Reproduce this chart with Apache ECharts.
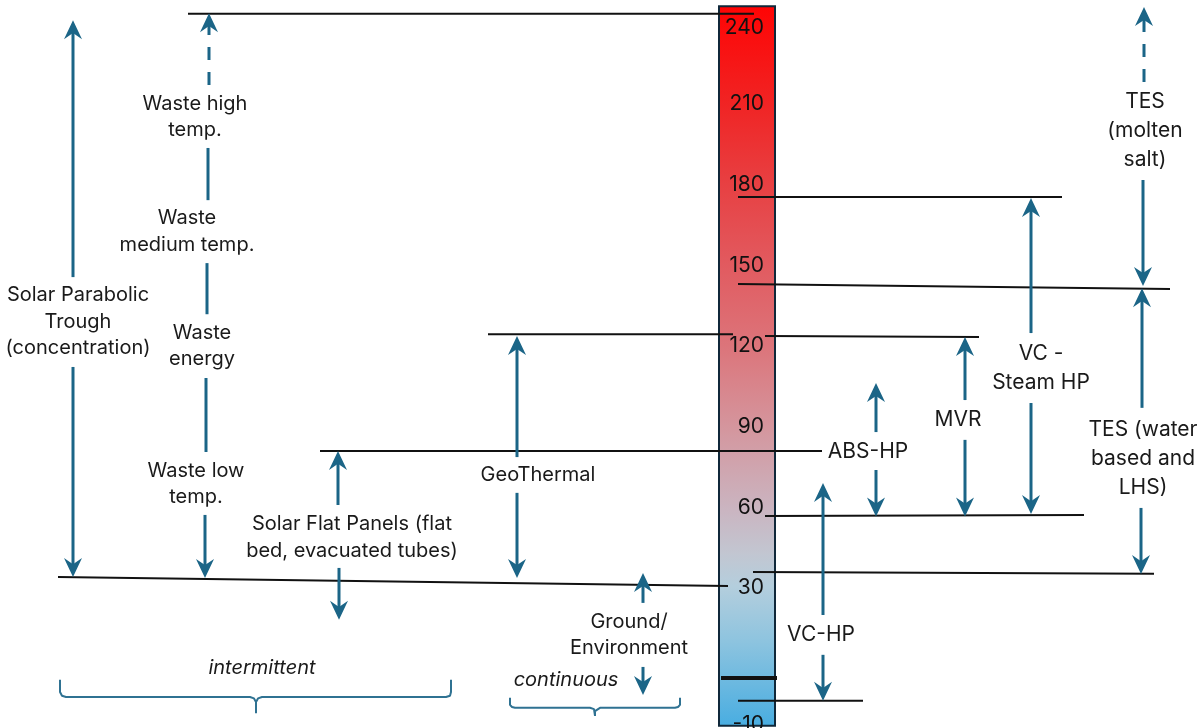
<!DOCTYPE html>
<html><head><meta charset="utf-8">
<script src="https://cdn.jsdelivr.net/npm/echarts@6.0.0/dist/echarts.min.js"></script>
<style>html,body{margin:0;padding:0;background:#fff}#chart{width:1204px;height:728px}</style>
</head><body><div id="chart"></div>
<script>
// ================= DATA (temperatures in °C) =================
const scaleTicks = [-10, 30, 60, 90, 120, 150, 180, 210, 240];
const scaleExtent = [-21.2, 246.3];           // colour scale bar: bottom, top
const axisRange = [-22, 248.6];

// reference levels (horizontal black lines): temperature at left end / right end
const levelStart = [243.5, 175.4, 143.0, 124.4, 123.7, 81.0, 56.8, 34.1, 36.0, -3.4, -11.9];
const levelEnd   = [243.5, 175.4, 141.2, 124.4, 123.3, 81.0, 57.2, 30.8, 35.3, -3.4, -11.9];

// arrow segments: start temperature / end (tip) temperature
const arrowNames = ['Trough up','Trough down','Waste high','Waste a','Waste b','Waste c','Waste low',
  'Flat up','Flat down','Geo up','Geo down','Ground up','Ground down','VC-HP up','VC-HP down',
  'ABS up','ABS down','MVR up','MVR down','Steam up','Steam down','TES salt up','TES salt down',
  'TES water up','TES water down'];
const arrowFrom = [145.6, 112.2, 217.0, 193.6, 150.8, 108.1, 57.2, 60.9, 37.5, 78.7, 65.4, 24.5, 0.7,
  20.0, 5.2, 88.0, 73.9, 99.9, 85.1, 124.8, 98.8, 218.1, 181.7, 97.0, 59.8];
const arrowTo   = [241.1, 34.1, 243.7, 174.2, 131.8, 80.6, 33.8, 81.0, 18.2, 123.7, 33.8, 35.6, -9.7,
  69.1, -11.9, 106.2, 56.6, 123.3, 56.6, 175.0, 57.5, 246.0, 142.3, 141.5, 35.2];

// text annotations and the temperature at which they sit
const labelTexts = ['Solar Parabolic\nTrough\n(concentration)', 'Waste high\ntemp.', 'Waste\nmedium temp.',
  'Waste\nenergy', 'Waste low\ntemp.', 'Solar Flat Panels (flat\nbed, evacuated tubes)', 'GeoThermal',
  'Ground/\nEnvironment', 'intermittent', 'continuous', 'VC-HP', 'ABS-HP', 'MVR', 'VC -\nSteam HP',
  'TES\n(molten\nsalt)', 'TES (water\nbased and\nLHS)'];
const labelTemps = [129.0, 205.1, 162.5, 120.0, 68.7, 48.8, 72.0, 12.6, 0.3, -4.1, 12.6, 80.6, 92.5, 111.6, 199.9, 78.0];

// ================= LAYOUT / STYLE (horizontal positions, sizes, colours) =================
const FONT = 'Inter';
const TEXT = '#1a1a1a';
const BLUE = '#1b6587';
const levelX = [[188,754],[738,1062],[738,1170],[488,733],[765,979],[320,822],[765,1084],[58,728],[753,1154],[721,777],[738,863]];
const levelW = [2,2,2,2,2,2,2,2,2,4,2];
const arrowX = [[73,73],[73,73],[209,209],[208,208],[207,207],[206,206],[205,205],[338,338],[339,339],
  [517,517],[517,517],[643,643],[643,643],[823,823],[823,823],[876,876],[876,876],[965,965],[965,965],
  [1031,1031],[1031,1031],[1144,1144],[1143,1143],[1142,1142],[1141,1141]];
const arrowHead = [1,1,1,0,0,0,1,1,1,1,1,1,1,1,1,1,1,1,1,1,1,1,1,1,1];
const arrowDash = [0,0,1,0,0,0,0,0,0,0,0,0,0,0,0,0,0,0,0,0,0,1,0,0,0];
const labelX = [78,195,187,202,196,352,538,629,262,566,821,868,958,1041,1145,1143];
const labelSize = [20,20,20,20,20,20,20,20,20,20,21,21,21,21,21,21];
const labelLH = [26.5,26.5,26.5,26.5,26.5,27,26,26,26,26,29,29,29,29,29,29];
const labelItalic = [0,0,0,0,0,0,0,0,1,1,0,0,0,0,0,0];
const braceIntermittent = [[60,-4.1],[60,-8.6],[62,-10.0],[66,-10.5],[250,-10.5],[254,-11.0],[256,-12.3],[256,-16.5],
  [256,-12.3],[258,-11.0],[262,-10.5],[446,-10.5],[450,-10.0],[451,-8.6],[451,-4.1]];
const braceContinuous = [[510,-10.8],[510,-13.4],[512,-14.2],[515,-14.5],[590,-14.5],[594,-15.0],[595,-15.7],[595,-17.5],
  [595,-15.7],[596,-15.0],[600,-14.5],[675,-14.5],[678,-14.2],[680,-13.4],[680,-10.8]];

// ================= BUILD =================
const levelData = levelStart.map((t, i) => [levelX[i][0], t, levelX[i][1], levelEnd[i]]);
const arrowData = arrowFrom.map((t, i) => [arrowX[i][0], t, arrowX[i][1], arrowTo[i]]);
const labelData = labelTemps.map((t, i) => [labelX[i], t]);

function segmentRenderer(styles) {
  return function (params, api) {
    const st = styles(params.dataIndex);
    const a = api.coord([api.value(0), api.value(1)]);
    const b = api.coord([api.value(2), api.value(3)]);
    const dx = b[0] - a[0], dy = b[1] - a[1];
    const len = Math.hypot(dx, dy) || 1;
    const ux = dx / len, uy = dy / len;
    const children = [];
    let end = b;
    if (st.head) {
      const L = 19, W = 18, notch = 0.68;
      const nx = -uy, ny = ux;
      const bx = b[0] - ux * L, by = b[1] - uy * L;
      end = [b[0] - ux * L * 0.6, b[1] - uy * L * 0.6];
      children.push({
        type: 'polygon', z2: 2,
        shape: { points: [[b[0], b[1]], [bx + nx * W / 2, by + ny * W / 2],
          [b[0] - ux * L * notch, b[1] - uy * L * notch], [bx - nx * W / 2, by - ny * W / 2]] },
        style: { fill: st.color }
      });
    }
    children.unshift({
      type: 'line', z2: 1,
      shape: { x1: a[0], y1: a[1], x2: end[0], y2: end[1] },
      style: { stroke: st.color, lineWidth: st.width, lineDash: st.dash ? [13, 12] : null }
    });
    return { type: 'group', children };
  };
}

const gradient = new echarts.graphic.LinearGradient(0, 0, 0, 1, [
  { offset: 0.00, color: '#ff0404' },
  { offset: 0.13, color: '#f12222' },
  { offset: 0.24, color: '#e83e40' },
  { offset: 0.35, color: '#e2585d' },
  { offset: 0.475, color: '#dc757b' },
  { offset: 0.59, color: '#d4979f' },
  { offset: 0.70, color: '#cab5c1' },
  { offset: 0.76, color: '#c2c6d1' },
  { offset: 0.805, color: '#b4cedd' },
  { offset: 0.88, color: '#8ec4df' },
  { offset: 1.00, color: '#48ade1' }
]);

const option = {
  animation: false,
  backgroundColor: '#ffffff',
  grid: [
    { left: 0, right: 0, top: 0, bottom: 0, containLabel: false, outerBoundsMode: 'none' },
    { left: 718, width: 58, top: 0, bottom: 0, containLabel: false, outerBoundsMode: 'none' }
  ],
  xAxis: [
    { type: 'value', gridIndex: 0, min: 0, max: 1204, show: false },
    { type: 'value', gridIndex: 1, min: 0, max: 1, show: false }
  ],
  yAxis: [
    { type: 'value', gridIndex: 0, min: axisRange[0], max: axisRange[1], show: false },
    {
      type: 'value', gridIndex: 1, min: axisRange[0], max: axisRange[1], position: 'right', z: 10,
      axisLine: { show: false }, axisTick: { show: false }, splitLine: { show: false },
      axisLabel: {
        inside: true, margin: 12, customValues: scaleTicks, color: '#111',
        fontFamily: FONT, fontSize: 21,
        formatter: v => (v === -10 ? '{lo|-10}' : v === 240 ? '{hi|240}' : String(v)),
        rich: {
          lo: { padding: [58, 0, 0, 0], fontSize: 21, fontFamily: FONT, color: '#111' },
          hi: { padding: [9, 0, 0, 0], fontSize: 21, fontFamily: FONT, color: '#111' }
        }
      }
    }
  ],
  series: [
    {
      type: 'custom', name: 'scale', xAxisIndex: 1, yAxisIndex: 1, z: 1, silent: true,
      data: [[0, scaleExtent[1], 1, scaleExtent[0]]],
      renderItem: (params, api) => {
        const p1 = api.coord([api.value(0), api.value(1)]);
        const p2 = api.coord([api.value(2), api.value(3)]);
        return { type: 'rect', shape: { x: p1[0] + 1, y: p1[1], width: p2[0] - p1[0] - 2, height: p2[1] - p1[1] },
          style: { fill: gradient, stroke: '#10283a', lineWidth: 2 } };
      }
    },
    {
      type: 'custom', name: 'levels', z: 5, silent: true, data: levelData,
      renderItem: segmentRenderer(i => ({ head: 0, dash: 0, color: '#111', width: levelW[i] }))
    },
    {
      type: 'custom', name: 'arrows', z: 6, silent: true, data: arrowData,
      renderItem: segmentRenderer(i => ({ head: arrowHead[i], dash: arrowDash[i], color: BLUE, width: 3 }))
    },
    {
      type: 'line', name: 'intermittent', data: braceIntermittent, showSymbol: false, silent: true, z: 5,
      lineStyle: { color: '#2f7292', width: 2 }
    },
    {
      type: 'line', name: 'continuous', data: braceContinuous, showSymbol: false, silent: true, z: 5,
      lineStyle: { color: '#2f7292', width: 2 }
    },
    {
      type: 'custom', name: 'labels', z: 7, silent: true, data: labelData,
      renderItem: (params, api) => {
        const i = params.dataIndex;
        const p = api.coord([api.value(0), api.value(1)]);
        return {
          type: 'text', x: p[0], y: p[1],
          style: {
            text: labelTexts[i], fill: TEXT, fontFamily: FONT, fontSize: labelSize[i],
            fontStyle: labelItalic[i] ? 'italic' : 'normal',
            align: 'center', verticalAlign: 'middle', lineHeight: labelLH[i]
          }
        };
      }
    }
  ]
};

const chart = echarts.init(document.getElementById('chart'), null, { renderer: 'canvas' });
chart.setOption(option);
</script>
</body></html>
